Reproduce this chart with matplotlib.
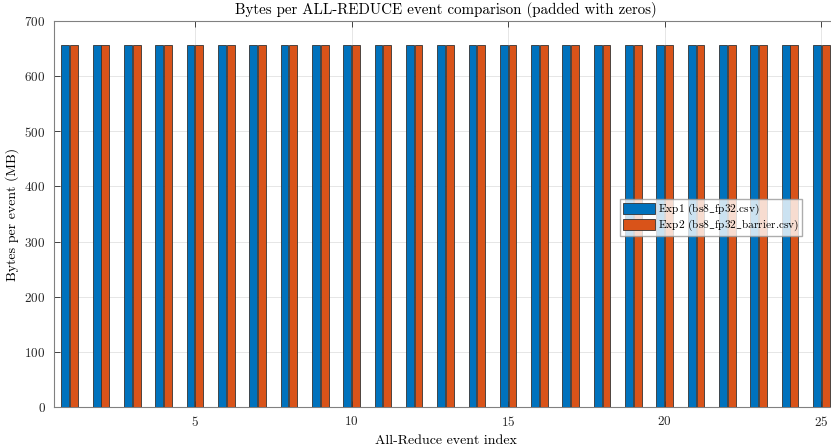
import numpy as np
import matplotlib.pyplot as plt

plt.rcParams['font.family'] = 'cmr10'
plt.rcParams['mathtext.fontset'] = 'cm'
plt.rcParams['axes.formatter.use_mathtext'] = True

# bytes per all-reduce event (MB), one entry per event
event_idx = np.arange(1, 26)
exp1_mb = [657] * 25
exp2_mb = [657] * 25
labels = [r'Exp1 (bs8$\_$fp32.csv)', r'Exp2 (bs8$\_$fp32$\_$barrier.csv)']

fig = plt.figure(figsize=(8.31, 4.47), dpi=100)
ax = fig.add_axes([54/831, 40/447, 783/831, 386/447])

w = 0.25
ax.bar(event_idx - 0.14, exp1_mb, w, color='#0072BD', edgecolor='#333333', linewidth=0.6, label=labels[0], zorder=3)
ax.bar(event_idx + 0.14, exp2_mb, w, color='#D95319', edgecolor='#333333', linewidth=0.6, label=labels[1], zorder=3)

ax.set_xlim(0.5, 25.5)
ax.set_ylim(0, 700)
ax.set_xticks([5, 10, 15, 20, 25])
ax.set_yticks(np.arange(0, 701, 100))
ax.grid(True, color='#e6e6e6', linewidth=0.7, zorder=0)
ax.tick_params(direction='in', length=4, width=0.6, top=True, right=True, labelsize=9.5, colors='#262626', pad=6)
for s in ax.spines.values():
    s.set_color('#808080')
    s.set_linewidth(0.8)

ax.set_title('Bytes per ALL-REDUCE event comparison (padded with zeros)', fontsize=10.8, pad=5)
ax.set_xlabel('All-Reduce event index', fontsize=10)
ax.set_ylabel('Bytes per event (MB)', fontsize=10)

ax.legend(loc='upper left', bbox_to_anchor=(566/783, 1 - (199-21)/386), fontsize=8.2, frameon=True,
          fancybox=False, edgecolor='#999999', handlelength=2.8, handleheight=1.1, borderpad=0.25,
          labelspacing=0.05, handletextpad=0.3, borderaxespad=0)

fig.savefig('out.png', dpi=100)
